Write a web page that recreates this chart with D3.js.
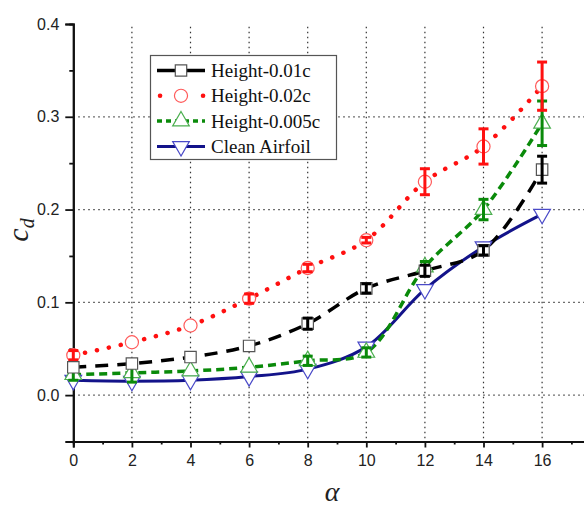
<!DOCTYPE html>
<html lang="en">
  <head>
    <meta charset="utf-8">
    <script src="https://d3js.org/d3.v7.min.js"></script>
    <title>cd vs alpha</title>
    <style>
      body { margin: 0; background: #fff; }
    </style>
  </head>
  <body>
    <svg id="chart"></svg>
    <script type="text/javascript">

    // angle of attack
    var alpha = [0, 2, 4, 6, 8, 10, 12, 14, 16];

    // drag coefficient per case
    var h001   = [0.030, 0.034, 0.041, 0.053, 0.077, 0.115, 0.134, 0.156, 0.243];
    var h001E  = [0, 0, 0, 0, 0.006, 0.005, 0.006, 0.005, 0.0145];
    var h002   = [0.043, 0.057, 0.075, 0.104, 0.137, 0.167, 0.230, 0.268, 0.333];
    var h002E  = [0.005, 0, 0, 0.005, 0.004, 0.003, 0.014, 0.019, 0.026];
    var h0005  = [0.022, 0.024, 0.026, 0.030, 0.037, 0.046, 0.138, 0.200, 0.293];
    var h0005E = [0.006, 0.010, 0, 0, 0.005, 0.005, 0.006, 0.011, 0.024];
    var clean  = [0.016, 0.015, 0.016, 0.020, 0.028, 0.052, 0.114, 0.160, 0.195];

    var xTicks = [0, 2, 4, 6, 8, 10, 12, 14, 16];
    var yTicks = [0.0, 0.1, 0.2, 0.3, 0.4];

    var width = 584, height = 509;
    var svg = d3.select("#chart").attr("width", width).attr("height", height);

    var x = d3.scaleLinear().domain([0, 18]).range([73.3, 600.7]);
    var y = d3.scaleLinear().domain([-0.05, 0.4]).range([441.5, 24]);

    // grid
    var grid = svg.append("g");
    grid.selectAll("line.v").data(xTicks.slice(1))
      .enter().append("line")
      .attr("x1", function(d) { return x(d); })
      .attr("x2", function(d) { return x(d); })
      .attr("y1", y(0.397)).attr("y2", y(-0.05))
      .attr("stroke", "#333").attr("stroke-width", 1.2)
      .attr("stroke-dasharray", "1.4,3.6");
    grid.selectAll("line.h").data([0.0, 0.1, 0.2, 0.3])
      .enter().append("line")
      .attr("x1", x(0)).attr("x2", width)
      .attr("y1", function(d) { return y(d); })
      .attr("y2", function(d) { return y(d); })
      .attr("stroke", "#333").attr("stroke-width", 1.2)
      .attr("stroke-dasharray", "1.4,3.6");

    // axes
    var xAxis = d3.axisBottom(x).tickValues(xTicks).tickSize(6).tickPadding(7)
      .tickFormat(d3.format("d"));
    var xMinor = d3.axisBottom(x).tickValues([1, 3, 5, 7, 9, 11, 13, 15, 17]).tickSize(3).tickFormat("");
    var yAxis = d3.axisLeft(y).tickValues(yTicks).tickSize(8).tickPadding(6)
      .tickFormat(d3.format(".1f"));
    var yMinor = d3.axisLeft(y).tickValues([-0.05, 0.05, 0.15, 0.25, 0.35]).tickSize(4).tickFormat("");

    [[xAxis, "x"], [xMinor, "x"], [yAxis, "y"], [yMinor, "y"]].forEach(function(a) {
      var g = svg.append("g")
        .attr("transform", a[1] == "x" ? "translate(0," + y(-0.05) + ")" : "translate(" + x(0) + ",0)")
        .call(a[0]);
      g.select(".domain").attr("stroke", "#111").attr("stroke-width", 2);
      g.selectAll(".tick line").attr("stroke", "#111").attr("stroke-width", 1.8);
      g.selectAll("text").attr("font-family", "Liberation Sans, Arial, sans-serif")
        .attr("font-size", 16).attr("fill", "#222");
    });

    // axis titles
    var yt = svg.append("text")
      .attr("transform", "translate(28,230) rotate(-90)")
      .attr("text-anchor", "middle")
      .attr("font-family", "'Liberation Serif', 'Times New Roman', serif")
      .attr("font-style", "italic").attr("fill", "#222");
    yt.append("tspan").attr("font-size", 30).text("c");
    yt.append("tspan").attr("font-size", 20).attr("dy", 6).text("d");

    svg.append("text")
      .attr("x", 332).attr("y", 501)
      .attr("text-anchor", "middle")
      .attr("font-family", "'Liberation Serif', 'Times New Roman', serif")
      .attr("font-style", "italic").attr("font-size", 28).attr("fill", "#222")
      .text("\u03b1");

    var series = [
      { name: "Clean Airfoil", vals: clean, err: null, line: "#13138a", dash: null, width: 3,
        mark: "#4a4ac8", sym: d3.symbolTriangle, rot: 180, size: 120, ecol: "#13138a" },
      { name: "Height-0.005c", vals: h0005, err: h0005E, line: "#0a8a0a", dash: "8,5", width: 3.5,
        mark: "#4caf50", sym: d3.symbolTriangle, rot: 0, size: 120, ecol: "#0a8a0a" },
      { name: "Height-0.02c", vals: h002, err: h002E, line: "#ff1010", dash: "0.1,12", width: 4.5,
        mark: "#ff5a5a", sym: d3.symbolCircle, rot: 0, size: 135, ecol: "#ff1010" },
      { name: "Height-0.01c", vals: h001, err: h001E, line: "#000", dash: "13,9", width: 3.5,
        mark: "#555", sym: d3.symbolSquare, rot: 0, size: 130, ecol: "#000" }
    ];

    var lineGen = d3.line()
      .x(function(d) { return x(d[0]); })
      .y(function(d) { return y(d[1]); })
      .curve(d3.curveCatmullRom.alpha(0.5));

    series.forEach(function(s) {
      var pts = alpha.map(function(a, i) { return [a, s.vals[i]]; });
      svg.append("path")
        .attr("d", lineGen(pts))
        .attr("fill", "none")
        .attr("stroke", s.line)
        .attr("stroke-width", s.width)
        .attr("stroke-linecap", s.dash == "0.1,12" ? "round" : "butt")
        .attr("stroke-dasharray", s.dash);
    });

    series.forEach(function(s) {
      var g = svg.append("g");
      g.selectAll("path").data(alpha)
        .enter().append("path")
        .attr("d", d3.symbol().type(s.sym).size(s.size))
        .attr("transform", function(d, i) {
          return "translate(" + x(d) + "," + y(s.vals[i]) + ") rotate(" + s.rot + ")";
        })
        .attr("fill", "white")
        .attr("stroke", s.mark)
        .attr("stroke-width", 1.2);
      if (s.err) {
        var eb = g.selectAll("g.eb").data(alpha.filter(function(d, i) { return s.err[i] > 0; }))
          .enter().append("g");
        eb.each(function(d) {
          var i = alpha.indexOf(d);
          var e = d3.select(this);
          var lo = y(s.vals[i] - s.err[i]), hi = y(s.vals[i] + s.err[i]), cx = x(d);
          e.append("line").attr("x1", cx).attr("x2", cx).attr("y1", lo).attr("y2", hi);
          e.append("line").attr("x1", cx - 5).attr("x2", cx + 5).attr("y1", lo).attr("y2", lo);
          e.append("line").attr("x1", cx - 5).attr("x2", cx + 5).attr("y1", hi).attr("y2", hi);
          e.selectAll("line").attr("stroke", s.ecol).attr("stroke-width", 3);
        });
      }
    });

    // legend
    var leg = svg.append("g");
    leg.append("rect")
      .attr("x", 150.5).attr("y", 55.5).attr("width", 186).attr("height", 104)
      .attr("fill", "white").attr("stroke", "#555").attr("stroke-width", 1.2);
    var legOrder = [series[3], series[2], series[1], series[0]];
    legOrder.forEach(function(s, i) {
      var ly = 70.5 + i * 25.3;
      var r = leg.append("g");
      if (s.dash == "0.1,12") {
        r.append("line").attr("x1", 160).attr("x2", 160.1).attr("y1", ly).attr("y2", ly)
          .attr("stroke", s.line).attr("stroke-width", s.width).attr("stroke-linecap", "round");
        r.append("line").attr("x1", 203).attr("x2", 203.1).attr("y1", ly).attr("y2", ly)
          .attr("stroke", s.line).attr("stroke-width", s.width).attr("stroke-linecap", "round");
      } else {
        r.append("line").attr("x1", 157).attr("x2", 205).attr("y1", ly).attr("y2", ly)
          .attr("stroke", s.line).attr("stroke-width", s.width)
          .attr("stroke-dasharray", s.dash == "8,5" ? "5,4" : null);
      }
      r.append("path")
        .attr("d", d3.symbol().type(s.sym).size(s.size))
        .attr("transform", "translate(181," + ly + ") rotate(" + s.rot + ")")
        .attr("fill", "white").attr("stroke", s.mark).attr("stroke-width", 1.2);
      r.append("text")
        .attr("x", 211).attr("y", ly + 6.5)
        .attr("font-family", "'Liberation Serif', 'Times New Roman', serif")
        .attr("font-size", 19).attr("fill", "#111")
        .text(s.name);
    });

    </script>
  </body>
</html>
